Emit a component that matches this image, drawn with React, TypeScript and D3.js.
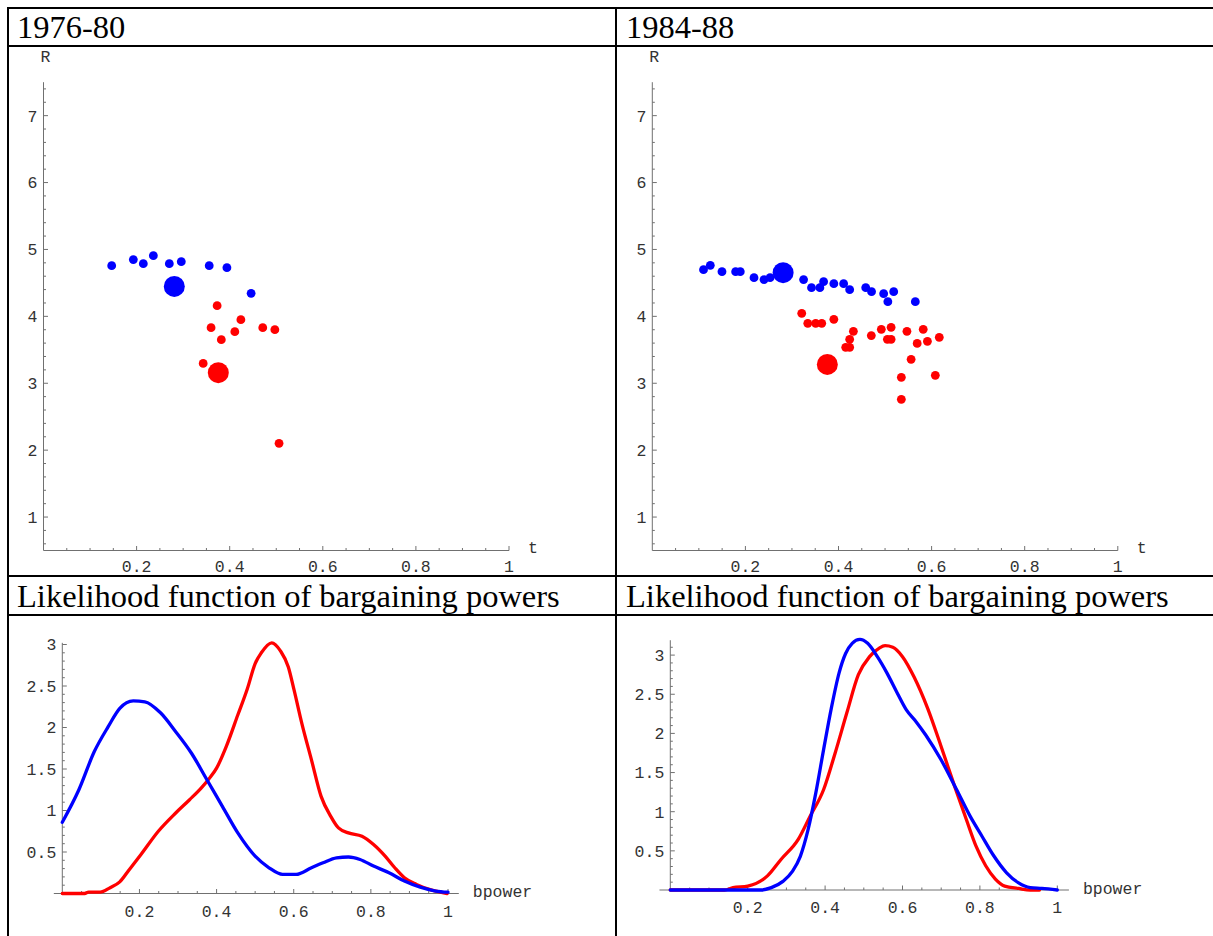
import React from "react";
import * as d3 from "d3";

type P = [number, number];

// ---------- tick labels ----------
const tTicks = [0.2, 0.4, 0.6, 0.8, 1];
const rTicks = [1, 2, 3, 4, 5, 6, 7];
const lTicks = [0.5, 1, 1.5, 2, 2.5, 3];

// ---------- panel titles ----------
const titleA = "1976-80";
const titleB = "1984-88";
const titleLik = "Likelihood function of bargaining powers";

// ---------- scatter 1976-80 (t, R) ----------
const blueA: P[] = [
  [0.1465, 4.758], [0.193, 4.848], [0.2144, 4.788], [0.236, 4.907], [0.2703, 4.788],
  [0.296, 4.818], [0.356, 4.758], [0.394, 4.728], [0.446, 4.344],
];
const blueBigA: P = [0.281, 4.448];
const redA: P[] = [
  [0.373, 4.16], [0.424, 3.951], [0.36, 3.831], [0.411, 3.771], [0.471, 3.831],
  [0.497, 3.801], [0.382, 3.652], [0.343, 3.297], [0.506, 2.102],
];
const redBigA: P = [0.3755, 3.158];

// ---------- scatter 1984-88 (t, R) ----------
const blueB: P[] = [
  [0.11, 4.698], [0.1246, 4.762], [0.1497, 4.668], [0.179, 4.668], [0.189, 4.668],
  [0.2185, 4.578], [0.24, 4.549], [0.253, 4.578], [0.325, 4.549], [0.342, 4.429],
  [0.36, 4.429], [0.368, 4.519], [0.411, 4.489], [0.39, 4.489], [0.424, 4.399],
  [0.4585, 4.429], [0.471, 4.369], [0.497, 4.339], [0.506, 4.22], [0.5186, 4.369],
  [0.565, 4.22],
];
const blueBigB: P = [0.281, 4.653];
const redB: P[] = [
  [0.321, 4.045], [0.334, 3.895], [0.351, 3.895], [0.364, 3.895], [0.39, 3.955],
  [0.432, 3.776], [0.424, 3.656], [0.4155, 3.537], [0.424, 3.537], [0.4705, 3.712],
  [0.492, 3.806], [0.513, 3.836], [0.505, 3.656], [0.513, 3.656], [0.547, 3.776],
  [0.582, 3.806], [0.569, 3.596], [0.591, 3.626], [0.6165, 3.686], [0.556, 3.357],
  [0.535, 3.088], [0.608, 3.118], [0.535, 2.759],
];
const redBigB: P = [0.376, 3.282];

// ---------- likelihood 1976-80 (bpower, density) ----------
const likBlueA: P[] = [
  [0, 0.858], [0.043, 1.25], [0.083, 1.71], [0.119, 2.01], [0.149, 2.23], [0.184, 2.32],
  [0.214, 2.31], [0.254, 2.18], [0.294, 1.95], [0.335, 1.69], [0.375, 1.37], [0.415, 1.05],
  [0.455, 0.73], [0.5, 0.45], [0.536, 0.31], [0.571, 0.23], [0.606, 0.23], [0.646, 0.31],
  [0.676, 0.37], [0.711, 0.43], [0.742, 0.44], [0.772, 0.41], [0.807, 0.33], [0.847, 0.25],
  [0.887, 0.15], [0.928, 0.076], [0.968, 0.03], [1.0, 0.016],
];
const likRedA: P[] = [
  [0, 0], [0.058, 0], [0.068, 0.016], [0.098, 0.016], [0.124, 0.07], [0.149, 0.14],
  [0.174, 0.29], [0.204, 0.47], [0.249, 0.75], [0.294, 0.97], [0.33, 1.13], [0.36, 1.27],
  [0.38, 1.38], [0.4, 1.51], [0.425, 1.77], [0.455, 2.15], [0.48, 2.47], [0.5, 2.77],
  [0.516, 2.9], [0.543, 3.02], [0.566, 2.92], [0.586, 2.73], [0.601, 2.45], [0.621, 2.05],
  [0.646, 1.61], [0.671, 1.17], [0.696, 0.93], [0.716, 0.79], [0.742, 0.73], [0.777, 0.69],
  [0.807, 0.59], [0.837, 0.45], [0.862, 0.31], [0.887, 0.19], [0.918, 0.11], [0.958, 0.04],
  [0.998, 0],
];

// ---------- likelihood 1984-88 (bpower, density) ----------
const likBlueB: P[] = [
  [0, 0], [0.236, 0], [0.261, 0.03], [0.291, 0.11], [0.316, 0.24], [0.336, 0.43],
  [0.356, 0.77], [0.376, 1.24], [0.396, 1.79], [0.416, 2.32], [0.436, 2.77], [0.453, 3.02],
  [0.47, 3.15], [0.49, 3.2], [0.51, 3.15], [0.535, 2.98], [0.56, 2.77], [0.585, 2.53],
  [0.61, 2.3], [0.635, 2.15], [0.66, 1.98], [0.7, 1.66], [0.74, 1.28], [0.775, 0.94],
  [0.805, 0.69], [0.834, 0.45], [0.869, 0.22], [0.9, 0.09], [0.93, 0.03], [0.96, 0.02],
  [1.0, 0],
];
const likRedB: P[] = [
  [0, 0], [0.14, 0], [0.162, 0.03], [0.2, 0.05], [0.251, 0.18], [0.286, 0.39], [0.331, 0.65],
  [0.361, 0.94], [0.396, 1.28], [0.426, 1.75], [0.456, 2.26], [0.486, 2.75], [0.515, 2.98],
  [0.54, 3.09], [0.555, 3.12], [0.575, 3.1], [0.6, 2.98], [0.63, 2.72], [0.665, 2.32],
  [0.7, 1.83], [0.735, 1.32], [0.765, 0.9], [0.79, 0.56], [0.815, 0.31], [0.84, 0.14],
  [0.864, 0.05], [0.9, 0.02], [0.93, 0], [0.954, 0],
];

const MONO = "'Liberation Mono', 'Courier New', monospace";
const SERIF = "'Liberation Serif', 'Times New Roman', serif";
const AXIS = "#707070";
const LABEL = "#333";
const MONO_SIZE = 16.5;

function fmt(v: number) {
  return String(v);
}

function range(a: number, b: number, step: number) {
  const out: number[] = [];
  const n = Math.round((b - a) / step);
  for (let i = 0; i <= n; i++) out.push(+(a + i * step).toFixed(4));
  return out;
}

type AxesProps = {
  x: d3.ScaleLinear<number, number>;
  y: d3.ScaleLinear<number, number>;
  xAxisFrom: number;
  xAxisTo: number;
  yAxisFrom: number;
  yAxisTo: number;
  yAt: number;
  xMinor: number[];
  xMajor: number[];
  yMinor: number[];
  yMajor: number[];
  xLabelDy: number;
  xName: string;
  xNameDx: number;
  xNameDy: number;
  yName?: string;
};

function Axes(p: AxesProps) {
  const ax = p.x(0);
  const ay = p.y(p.yAt);
  const isMajor = (arr: number[], v: number) => arr.some((m) => Math.abs(m - v) < 1e-6);
  return (
    <g>
      <line x1={p.x(p.xAxisFrom)} x2={p.x(p.xAxisTo)} y1={ay} y2={ay} stroke={AXIS} strokeWidth={1} />
      <line x1={ax} x2={ax} y1={p.y(p.yAxisFrom)} y2={p.y(p.yAxisTo)} stroke={AXIS} strokeWidth={1} />
      {p.xMinor.map((v) => (
        <line key={"xm" + v} x1={p.x(v)} x2={p.x(v)} y1={ay} y2={ay - (isMajor(p.xMajor, v) ? 4.5 : 2.5)} stroke={AXIS} strokeWidth={1} />
      ))}
      {p.yMinor.map((v) => (
        <line key={"ym" + v} x1={ax} x2={ax + (isMajor(p.yMajor, v) ? 4.5 : 2.5)} y1={p.y(v)} y2={p.y(v)} stroke={AXIS} strokeWidth={1} />
      ))}
      {p.xMajor.map((v) => (
        <text key={"xl" + v} x={p.x(v)} y={ay + p.xLabelDy} textAnchor="middle" fontFamily={MONO} fontSize={MONO_SIZE} fill={LABEL}>
          {fmt(v)}
        </text>
      ))}
      {p.yMajor.map((v) => (
        <text key={"yl" + v} x={ax - 6} y={p.y(v)} dy="0.36em" textAnchor="end" fontFamily={MONO} fontSize={MONO_SIZE} fill={LABEL}>
          {fmt(v)}
        </text>
      ))}
      <text x={p.x(p.xAxisTo) + p.xNameDx} y={ay + p.xNameDy} fontFamily={MONO} fontSize={MONO_SIZE} fill={LABEL}>
        {p.xName}
      </text>
      {p.yName && (
        <text x={ax + 2} y={62} textAnchor="middle" fontFamily={MONO} fontSize={MONO_SIZE} fill={LABEL}>
          {p.yName}
        </text>
      )}
    </g>
  );
}

function Scatter({ axisX, blue, blueBig, red, redBig }: { axisX: number; blue: P[]; blueBig: P; red: P[]; redBig: P }) {
  const x = d3.scaleLinear().domain([0, 1]).range([axisX, axisX + 465.5]);
  const y = d3.scaleLinear().domain([0.5, 7.5]).range([550.5, 82.2]);
  return (
    <g>
      <Axes
        x={x}
        y={y}
        xAxisFrom={0}
        xAxisTo={1}
        yAxisFrom={0.5}
        yAxisTo={7.5}
        yAt={0.5}
        xMinor={range(0.05, 1, 0.05)}
        xMajor={tTicks}
        yMinor={range(0.6, 7.4, 0.2)}
        yMajor={rTicks}
        xLabelDy={21.5}
        xName="t"
        xNameDx={19}
        xNameDy={2}
        yName="R"
      />
      {blue.map((d, i) => (
        <circle key={"b" + i} cx={x(d[0])} cy={y(d[1])} r={4.4} fill="#0000ff" />
      ))}
      <circle cx={x(blueBig[0])} cy={y(blueBig[1])} r={10.5} fill="#0000ff" />
      {red.map((d, i) => (
        <circle key={"r" + i} cx={x(d[0])} cy={y(d[1])} r={4.4} fill="#ff0000" />
      ))}
      <circle cx={x(redBig[0])} cy={y(redBig[1])} r={10.5} fill="#ff0000" />
    </g>
  );
}

function Likelihood({
  axisX, unitX, axisY, unitY, xFrom, xTo, yTop, blue, red,
}: {
  axisX: number; unitX: number; axisY: number; unitY: number; xFrom: number; xTo: number; yTop: number; blue: P[]; red: P[];
}) {
  const x = d3.scaleLinear().domain([0, 1]).range([axisX, axisX + unitX]);
  const y = d3.scaleLinear().domain([0, 1]).range([axisY, axisY - unitY]);
  const line = d3
    .line<P>()
    .x((d) => x(d[0]))
    .y((d) => y(d[1]))
    .curve(d3.curveMonotoneX);
  return (
    <g>
      <Axes
        x={x}
        y={y}
        xAxisFrom={xFrom}
        xAxisTo={xTo}
        yAxisFrom={0}
        yAxisTo={yTop}
        yAt={0}
        xMinor={range(0.05, 1, 0.05)}
        xMajor={tTicks}
        yMinor={range(0.1, Math.floor(yTop * 10) / 10, 0.1)}
        yMajor={lTicks}
        xLabelDy={23}
        xName="bpower"
        xNameDx={14}
        xNameDy={3.5}
      />
      <path d={line(red) || ""} fill="none" stroke="#ff0000" strokeWidth={3.3} strokeLinejoin="round" strokeLinecap="round" />
      <path d={line(blue) || ""} fill="none" stroke="#0000ff" strokeWidth={3.3} strokeLinejoin="round" strokeLinecap="round" />
    </g>
  );
}

export default function App() {
  const W = 1213;
  const H = 936;
  return (
    <div style={{ position: "absolute", left: 0, top: 0, width: W, height: H, background: "#fff" }}>
      <svg width={W} height={H} viewBox={`0 0 ${W} ${H}`} style={{ display: "block" }}>
        <rect x={0} y={0} width={W} height={H} fill="#fff" />
        {/* table grid */}
        <g stroke="#000" strokeWidth={2}>
          <line x1={7} x2={W} y1={8} y2={8} />
          <line x1={7} x2={W} y1={46} y2={46} />
          <line x1={7} x2={W} y1={576} y2={576} />
          <line x1={7} x2={W} y1={615} y2={615} />
          <line x1={8} x2={8} y1={7} y2={H} />
          <line x1={616} x2={616} y1={7} y2={H} />
        </g>
        <text x={17} y={38} fontFamily={SERIF} fontSize={32.5} fill="#000">{titleA}</text>
        <text x={626} y={38} fontFamily={SERIF} fontSize={32.5} fill="#000">{titleB}</text>
        <text x={17} y={607} fontFamily={SERIF} fontSize={32.5} fill="#000">{titleLik}</text>
        <text x={626} y={607} fontFamily={SERIF} fontSize={32.5} fill="#000">{titleLik}</text>

        <Scatter axisX={43.5} blue={blueA} blueBig={blueBigA} red={redA} redBig={redBigA} />
        <Scatter axisX={652.3} blue={blueB} blueBig={blueBigB} red={redB} redBig={redBigB} />

        <Likelihood axisX={62.3} unitX={385.7} axisY={893.5} unitY={83} xFrom={-0.022} xTo={1.028} yTop={3.02} blue={likBlueA} red={likRedA} />
        <Likelihood axisX={670.3} unitX={387} axisY={890} unitY={78.3} xFrom={-0.028} xTo={1.03} yTop={3.19} blue={likBlueB} red={likRedB} />
      </svg>
    </div>
  );
}
